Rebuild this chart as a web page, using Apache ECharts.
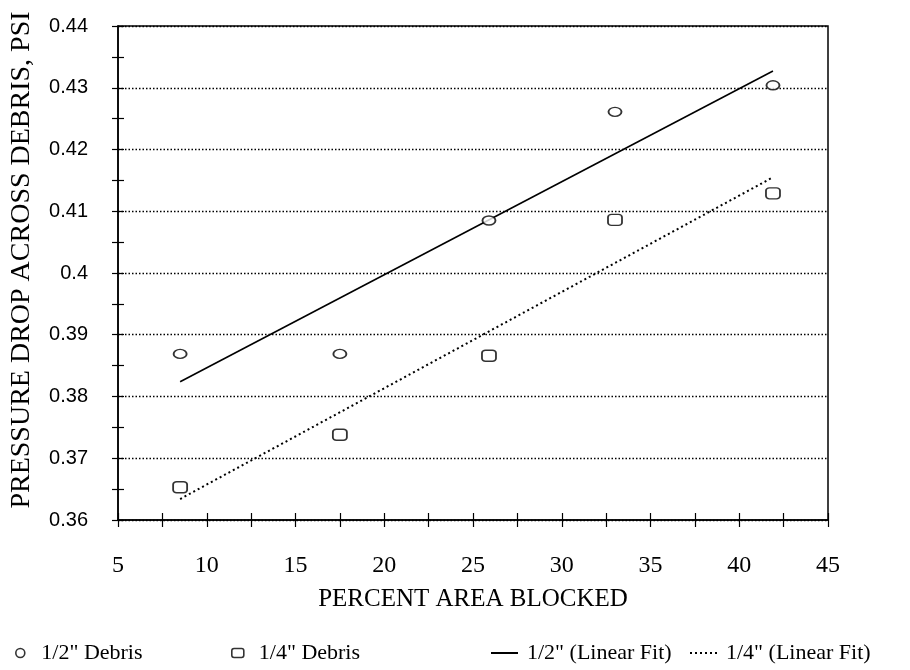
<!DOCTYPE html>
<html>
<head>
<meta charset="utf-8">
<script src="https://cdn.jsdelivr.net/npm/echarts@6/dist/echarts.min.js"></script>
<style>
  html, body { margin: 0; padding: 0; background: #fff; }
  #chart { width: 910px; height: 670px; }
</style>
</head>
<body>
<div id="chart"></div>
<script>
// Percent of flow area blocked (x) for each test
const pctBlocked = [8.5, 17.5, 25.9, 33.0, 41.9];
// Measured pressure drop, psi
const dropHalf = [0.3869, 0.3869, 0.4085, 0.4261, 0.4304];
const dropQuarter = [0.3653, 0.3738, 0.3866, 0.4086, 0.4129];
// Linear-fit end points
const fitX = [8.5, 41.9];
const fitHalf = [0.3824, 0.4327];
const fitQuarter = [0.3634, 0.4155];
// Tick labels
const xTickLabels = ['5', '10', '15', '20', '25', '30', '35', '40', '45'];
const yTickLabels = ['0.36', '0.37', '0.38', '0.39', '0.4', '0.41', '0.42', '0.43', '0.44'];

const X_MIN = 5, X_MAX = 45, Y_MIN = 0.36, Y_MAX = 0.44;
const serif = '"Liberation Serif", "Times New Roman", serif';
const sans = '"Liberation Sans", Arial, sans-serif';

const pairs = (xs, ys) => xs.map((x, i) => [x, ys[i]]);

const chart = echarts.init(document.getElementById('chart'), null, { renderer: 'canvas' });

// Extra axes only carry the tick marks that cross the axis line
function tickAxis(isX, inside) {
  return {
    type: 'value',
    gridIndex: 0,
    position: isX ? 'bottom' : 'left',
    min: isX ? X_MIN : Y_MIN,
    max: isX ? X_MAX : Y_MAX,
    interval: isX ? 2.5 : 0.005,
    axisLine: { show: false },
    axisLabel: { show: false },
    splitLine: { show: false },
    axisTick: { show: true, inside: inside, length: isX ? 7 : 6, lineStyle: { color: '#000', width: 1.2 } }
  };
}

const markerStyle = { color: '#fff', borderColor: '#000', borderWidth: 1.6 };
const legendText = { fontFamily: serif, fontSize: 22, color: '#000' };

function markerLegend(name, left) {
  return {
    data: [name], left: left, top: 637,
    itemWidth: 12, itemHeight: 9, itemGap: 0, selectedMode: false,
    itemStyle: markerStyle,
    textStyle: Object.assign({ padding: [0, 0, 0, 10] }, legendText)
  };
}
function lineLegend(name, left) {
  return {
    data: [name], left: left, top: 637,
    itemWidth: 27, itemHeight: 10, itemGap: 0, selectedMode: false,
    itemStyle: { opacity: 0 },
    textStyle: Object.assign({ padding: [0, 0, 0, 4] }, legendText)
  };
}

const option = {
  backgroundColor: '#fff',
  animation: false,
  grid: {
    left: 117, right: 82, top: 26, bottom: 150,
    show: true, borderColor: '#000', borderWidth: 1.5, backgroundColor: 'transparent'
  },
  xAxis: [
    {
      type: 'value', min: X_MIN, max: X_MAX, interval: 5,
      name: 'PERCENT AREA BLOCKED', nameLocation: 'middle', nameGap: 67,
      nameTextStyle: { fontFamily: serif, fontSize: 25, color: '#000' },
      axisLine: { show: true, lineStyle: { color: '#000', width: 1.5 } },
      axisTick: { show: false },
      splitLine: { show: false },
      axisLabel: {
        margin: 34, fontFamily: serif, fontSize: 24, color: '#000',
        formatter: v => { const i = Math.round((v - X_MIN) / 5); return xTickLabels[i] || ''; }
      }
    },
    tickAxis(true, false),
    tickAxis(true, true)
  ],
  yAxis: [
    {
      type: 'value', min: Y_MIN, max: Y_MAX, interval: 0.01,
      name: 'PRESSURE DROP ACROSS DEBRIS, PSI', nameLocation: 'middle', nameGap: 82, nameRotate: 90,
      nameTextStyle: { fontFamily: serif, fontSize: 28, color: '#000', padding: [0, 0, 0, 26] },
      axisLine: { show: true, lineStyle: { color: '#000', width: 1.5 } },
      axisTick: { show: false },
      splitLine: { show: true, lineStyle: { color: '#000', width: 1.4, type: [1.5, 2] } },
      axisLabel: {
        margin: 30, fontFamily: sans, fontSize: 20, color: '#000',
        formatter: v => { const i = Math.round((v - Y_MIN) / 0.01); return yTickLabels[i] || ''; }
      }
    },
    tickAxis(false, false),
    tickAxis(false, true)
  ],
  legend: [
    markerLegend('1/2" Debris', 10),
    markerLegend('1/4" Debris', 226),
    lineLegend('1/2" (Linear Fit)', 485),
    lineLegend('1/4" (Linear Fit)', 684)
  ],
  series: [
    {
      name: '1/2" Debris', type: 'scatter',
      data: pairs(pctBlocked, dropHalf),
      symbol: 'circle', symbolSize: [13, 9],
      itemStyle: markerStyle,
      z: 5
    },
    {
      name: '1/4" Debris', type: 'scatter',
      data: pairs(pctBlocked, dropQuarter),
      symbol: 'roundRect', symbolSize: [14, 11],
      itemStyle: markerStyle,
      z: 5
    },
    {
      name: '1/2" (Linear Fit)', type: 'line',
      data: pairs(fitX, fitHalf),
      showSymbol: false, symbol: 'none',
      lineStyle: { color: '#000', width: 1.6, type: 'solid' },
      itemStyle: { color: '#000' },
      z: 4
    },
    {
      name: '1/4" (Linear Fit)', type: 'line',
      data: pairs(fitX, fitQuarter),
      showSymbol: false, symbol: 'none',
      lineStyle: { color: '#000', width: 2, type: [2, 3] },
      itemStyle: { color: '#000' },
      z: 4
    }
  ]
};

chart.setOption(option);
</script>
</body>
</html>
